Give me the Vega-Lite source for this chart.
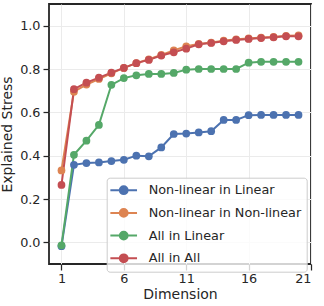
{
  "$schema": "https://vega.github.io/schema/vega-lite/v6.json",
  "width": 262,
  "height": 260,
  "autosize": {"type": "none"},
  "padding": {"left": 49, "top": 4, "right": 13, "bottom": 42},
  "background": "white",
  "config": {
    "font": "DejaVu Sans",
    "view": {"stroke": "#262626", "strokeWidth": 1.8},
    "axis": {
      "domain": false,
      "grid": true,
      "gridColor": "#ebebeb",
      "gridWidth": 1,
      "tickColor": "#262626",
      "tickSize": 6,
      "tickWidth": 1.25,
      "labelFont": "DejaVu Sans",
      "labelFontSize": 12.8,
      "labelColor": "#262626",
      "titleFont": "DejaVu Sans",
      "titleFontSize": 14,
      "titleFontWeight": "normal",
      "titleColor": "#262626"
    }
  },
  "data": {
    "values": [
      {"dim": 1, "series": "Non-linear in Linear", "v": -0.018},
      {"dim": 2, "series": "Non-linear in Linear", "v": 0.358},
      {"dim": 3, "series": "Non-linear in Linear", "v": 0.366},
      {"dim": 4, "series": "Non-linear in Linear", "v": 0.369},
      {"dim": 5, "series": "Non-linear in Linear", "v": 0.375},
      {"dim": 6, "series": "Non-linear in Linear", "v": 0.381},
      {"dim": 7, "series": "Non-linear in Linear", "v": 0.4},
      {"dim": 8, "series": "Non-linear in Linear", "v": 0.397},
      {"dim": 9, "series": "Non-linear in Linear", "v": 0.438},
      {"dim": 10, "series": "Non-linear in Linear", "v": 0.5},
      {"dim": 11, "series": "Non-linear in Linear", "v": 0.502},
      {"dim": 12, "series": "Non-linear in Linear", "v": 0.507},
      {"dim": 13, "series": "Non-linear in Linear", "v": 0.513},
      {"dim": 14, "series": "Non-linear in Linear", "v": 0.565},
      {"dim": 15, "series": "Non-linear in Linear", "v": 0.565},
      {"dim": 16, "series": "Non-linear in Linear", "v": 0.587},
      {"dim": 17, "series": "Non-linear in Linear", "v": 0.588},
      {"dim": 18, "series": "Non-linear in Linear", "v": 0.588},
      {"dim": 19, "series": "Non-linear in Linear", "v": 0.588},
      {"dim": 20, "series": "Non-linear in Linear", "v": 0.588},
      {"dim": 1, "series": "Non-linear in Non-linear", "v": 0.332},
      {"dim": 2, "series": "Non-linear in Non-linear", "v": 0.695},
      {"dim": 3, "series": "Non-linear in Non-linear", "v": 0.728},
      {"dim": 4, "series": "Non-linear in Non-linear", "v": 0.754},
      {"dim": 5, "series": "Non-linear in Non-linear", "v": 0.78},
      {"dim": 6, "series": "Non-linear in Non-linear", "v": 0.805},
      {"dim": 7, "series": "Non-linear in Non-linear", "v": 0.827},
      {"dim": 8, "series": "Non-linear in Non-linear", "v": 0.845},
      {"dim": 9, "series": "Non-linear in Non-linear", "v": 0.865},
      {"dim": 10, "series": "Non-linear in Non-linear", "v": 0.886},
      {"dim": 11, "series": "Non-linear in Non-linear", "v": 0.905},
      {"dim": 12, "series": "Non-linear in Non-linear", "v": 0.916},
      {"dim": 13, "series": "Non-linear in Non-linear", "v": 0.922},
      {"dim": 14, "series": "Non-linear in Non-linear", "v": 0.931},
      {"dim": 15, "series": "Non-linear in Non-linear", "v": 0.937},
      {"dim": 16, "series": "Non-linear in Non-linear", "v": 0.941},
      {"dim": 17, "series": "Non-linear in Non-linear", "v": 0.945},
      {"dim": 18, "series": "Non-linear in Non-linear", "v": 0.948},
      {"dim": 19, "series": "Non-linear in Non-linear", "v": 0.953},
      {"dim": 20, "series": "Non-linear in Non-linear", "v": 0.955},
      {"dim": 1, "series": "All in Linear", "v": -0.014},
      {"dim": 2, "series": "All in Linear", "v": 0.404},
      {"dim": 3, "series": "All in Linear", "v": 0.469},
      {"dim": 4, "series": "All in Linear", "v": 0.542},
      {"dim": 5, "series": "All in Linear", "v": 0.727},
      {"dim": 6, "series": "All in Linear", "v": 0.758},
      {"dim": 7, "series": "All in Linear", "v": 0.771},
      {"dim": 8, "series": "All in Linear", "v": 0.777},
      {"dim": 9, "series": "All in Linear", "v": 0.777},
      {"dim": 10, "series": "All in Linear", "v": 0.782},
      {"dim": 11, "series": "All in Linear", "v": 0.797},
      {"dim": 12, "series": "All in Linear", "v": 0.8},
      {"dim": 13, "series": "All in Linear", "v": 0.8},
      {"dim": 14, "series": "All in Linear", "v": 0.8},
      {"dim": 15, "series": "All in Linear", "v": 0.8},
      {"dim": 16, "series": "All in Linear", "v": 0.829},
      {"dim": 17, "series": "All in Linear", "v": 0.833},
      {"dim": 18, "series": "All in Linear", "v": 0.833},
      {"dim": 19, "series": "All in Linear", "v": 0.833},
      {"dim": 20, "series": "All in Linear", "v": 0.833},
      {"dim": 1, "series": "All in All", "v": 0.265},
      {"dim": 2, "series": "All in All", "v": 0.707},
      {"dim": 3, "series": "All in All", "v": 0.737},
      {"dim": 4, "series": "All in All", "v": 0.76},
      {"dim": 5, "series": "All in All", "v": 0.783},
      {"dim": 6, "series": "All in All", "v": 0.805},
      {"dim": 7, "series": "All in All", "v": 0.827},
      {"dim": 8, "series": "All in All", "v": 0.842},
      {"dim": 9, "series": "All in All", "v": 0.862},
      {"dim": 10, "series": "All in All", "v": 0.877},
      {"dim": 11, "series": "All in All", "v": 0.894},
      {"dim": 12, "series": "All in All", "v": 0.914},
      {"dim": 13, "series": "All in All", "v": 0.92},
      {"dim": 14, "series": "All in All", "v": 0.928},
      {"dim": 15, "series": "All in All", "v": 0.934},
      {"dim": 16, "series": "All in All", "v": 0.939},
      {"dim": 17, "series": "All in All", "v": 0.943},
      {"dim": 18, "series": "All in All", "v": 0.946},
      {"dim": 19, "series": "All in All", "v": 0.951},
      {"dim": 20, "series": "All in All", "v": 0.951}
    ]
  },
  "encoding": {
    "x": {
      "field": "dim",
      "type": "quantitative",
      "scale": {"domain": [0, 21], "nice": false, "zero": false},
      "axis": {"title": "Dimension", "values": [1, 6, 11, 16, 21], "labelPadding": 2, "titlePadding": 3}
    },
    "y": {
      "field": "v",
      "type": "quantitative",
      "scale": {"domain": [-0.1, 1.1], "nice": false, "zero": false},
      "axis": {"title": "Explained Stress", "values": [0, 0.2, 0.4, 0.6, 0.8, 1.0], "format": ".1f", "labelPadding": 3, "titlePadding": 5}
    },
    "color": {
      "field": "series",
      "type": "nominal",
      "scale": {
        "domain": ["Non-linear in Linear", "Non-linear in Non-linear", "All in Linear", "All in All"],
        "range": ["#4C72B0", "#DD8452", "#55A868", "#C44E52"]
      },
      "legend": {
        "title": null,
        "orient": "none",
        "legendX": 57.7,
        "legendY": 173.7,
        "padding": 5,
        "rowPadding": 5.7,
        "symbolOffset": 4.5,
        "labelFontSize": 12.8,
        "labelColor": "#262626",
        "labelFont": "DejaVu Sans",
        "labelOffset": 17.5,
        "symbolType": "M-2.05,0L2.05,0M-0.6,0A0.6,0.6 0 1,0 0.6,0A0.6,0.6 0 1,0 -0.6,0",
        "symbolSize": 169,
        "symbolStrokeWidth": 2,
        "strokeColor": "#cccccc",
        "fillColor": "rgba(255,255,255,0.8)",
        "cornerRadius": 3,
        "encode": {
          "symbols": {
            "update": {
              "fill": {"scale": "color", "field": "value"},
              "stroke": {"scale": "color", "field": "value"},
              "opacity": {"value": 1}
            }
          }
        }
      }
    }
  },
  "layer": [
    {"mark": {"type": "line", "strokeWidth": 2}},
    {"mark": {"type": "point", "filled": true, "size": 60, "opacity": 1}}
  ]
}
